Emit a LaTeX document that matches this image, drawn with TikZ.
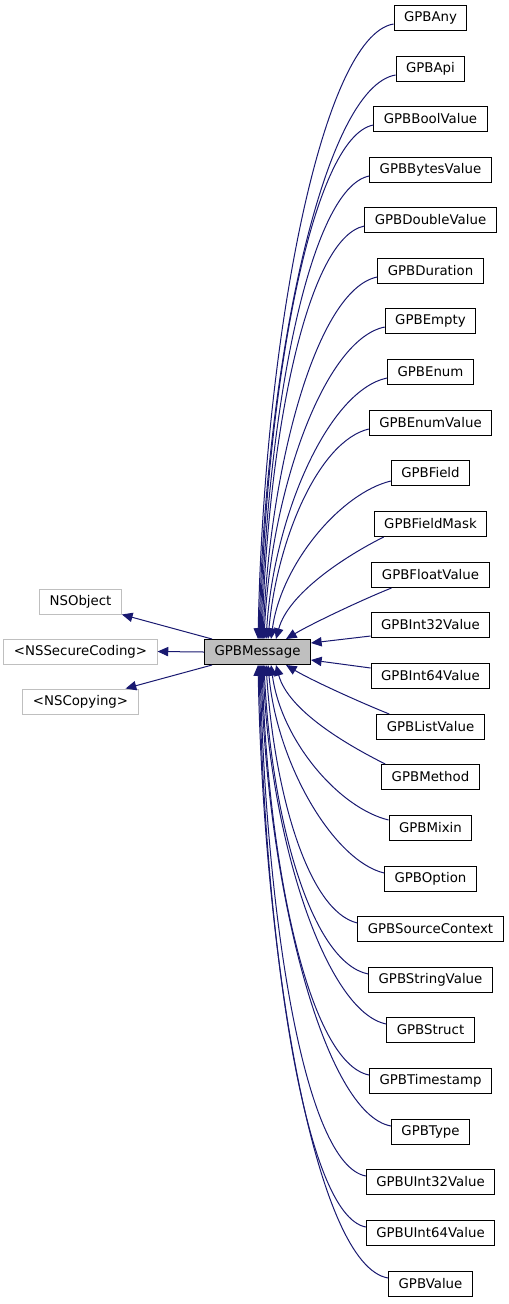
\documentclass[tikz,border=0pt]{standalone}
\usepackage{fontspec}
\setmainfont{DejaVu Sans}
\usetikzlibrary{arrows.meta,calc}
\definecolor{edgeblue}{HTML}{191970}
\definecolor{boxgray}{HTML}{BFBFBF}
\begin{document}
\begin{tikzpicture}[x=0.75pt,y=-0.75pt,
 cls/.style={draw=black, line width=0.75pt, inner xsep=7.5pt, inner ysep=0pt, minimum height=18.75pt, font=\fontsize{10}{12}\selectfont},
 ext/.style={cls, draw=boxgray},
 cur/.style={cls, fill=boxgray},
 edge/.style={draw=edgeblue, line width=0.75pt},
 inh/.style={edge, {Triangle[length=8pt,width=7pt]}-}]
\useasboundingbox (0,0) rectangle (508,1304);
% left
\node[ext] (nsobj) at (80.5,601.5) {NSObject};
\node[ext] (nssec) at (80.5,651.5) {<NSSecureCoding>};
\node[ext] (nscopy) at (80.5,701.5) {<NSCopying>};
\node[cur] (msg) at (257.5,652) {GPBMessage};
% right column
\node[cls] (any) at (430.5,18) {GPBAny};
\node[cls] (api) at (430.5,69) {GPBApi};
\node[cls] (bool) at (430.5,119) {GPBBoolValue};
\node[cls] (bytes) at (430.5,170) {GPBBytesValue};
\node[cls] (double) at (430.5,220) {GPBDoubleValue};
\node[cls] (duration) at (430.5,271) {GPBDuration};
\node[cls] (empty) at (430.5,321) {GPBEmpty};
\node[cls] (enum) at (430.5,372) {GPBEnum};
\node[cls] (enumv) at (430.5,423) {GPBEnumValue};
\node[cls] (field) at (430.5,473) {GPBField};
\node[cls] (fieldmask) at (430.5,524) {GPBFieldMask};
\node[cls] (floatv) at (430.5,575) {GPBFloatValue};
\node[cls] (int32) at (430.5,625) {GPBInt32Value};
\node[cls] (int64) at (430.5,676) {GPBInt64Value};
\node[cls] (listv) at (430.5,727) {GPBListValue};
\node[cls] (method) at (430.5,777) {GPBMethod};
\node[cls] (mixin) at (430.5,828) {GPBMixin};
\node[cls] (option) at (430.5,879) {GPBOption};
\node[cls] (srcctx) at (430.5,929) {GPBSourceContext};
\node[cls] (string) at (430.5,980) {GPBStringValue};
\node[cls] (struct) at (430.5,1030) {GPBStruct};
\node[cls] (timestamp) at (430.5,1081) {GPBTimestamp};
\node[cls] (type) at (430.5,1132) {GPBType};
\node[cls] (uint32) at (430.5,1182) {GPBUInt32Value};
\node[cls] (uint64) at (430.5,1233) {GPBUInt64Value};
\node[cls] (value) at (430.5,1284) {GPBValue};
% edges to bases
\draw[inh] (nsobj.south east) -- ($(msg.north west)+(8,0)$);
\draw[inh] (nssec.east) -- (msg.west);
\draw[inh] ($(nscopy.north east)+(-13,0)$) -- ($(msg.south west)+(8,0)$);
% upper children
\draw[inh] ($(msg.north west)+(54,0)$) .. controls +(6,-300) and +(-72,12) .. ($(any.west)+(0,6)$);
\draw[inh] ($(msg.north west)+(55,0)$) .. controls +(6,-275) and +(-72,12) .. ($(api.west)+(0,6)$);
\draw[inh] ($(msg.north west)+(56,0)$) .. controls +(6,-250) and +(-62,12) .. ($(bool.west)+(0,6)$);
\draw[inh] ($(msg.north west)+(57,0)$) .. controls +(6,-225) and +(-60,12) .. ($(bytes.west)+(0,6)$);
\draw[inh] ($(msg.north west)+(58,0)$) .. controls +(6,-200) and +(-58,12) .. ($(double.west)+(0,6)$);
\draw[inh] ($(msg.north west)+(59,0)$) .. controls +(7,-175) and +(-60,12) .. ($(duration.west)+(0,6)$);
\draw[inh] ($(msg.north west)+(60,0)$) .. controls +(7,-150) and +(-60,12) .. ($(empty.west)+(0,6)$);
\draw[inh] ($(msg.north west)+(62,0)$) .. controls +(8,-125) and +(-58,12) .. ($(enum.west)+(0,6)$);
\draw[inh] ($(msg.north west)+(64,0)$) .. controls +(9,-100) and +(-50,12) .. ($(enumv.west)+(0,6)$);
\draw[inh] ($(msg.north west)+(67,0)$) .. controls +(10,-75) and +(-50,12) .. ($(field.west)+(0,8)$);
\draw[inh] ($(msg.north west)+(72,0)$) .. controls +(12,-45) and +(-40,20) .. ($(fieldmask.south west)+(10,0)$);
\draw[inh] ($(msg.north west)+(82,0)$) .. controls +(25,-15) and +(-30,12) .. ($(floatv.south west)+(20,0)$);
\draw[inh] ($(msg.east)+(0,-9)$) -- ($(int32.west)+(0,11)$);
\draw[inh] ($(msg.east)+(0,8)$) -- ($(int64.west)+(0,-8)$);
% lower children
\draw[inh] ($(msg.south west)+(82,0)$) .. controls +(25,15) and +(-30,-12) .. ($(listv.north west)+(13,0)$);
\draw[inh] ($(msg.south west)+(72,0)$) .. controls +(12,45) and +(-40,-20) .. ($(method.north west)+(4,0)$);
\draw[inh] ($(msg.south west)+(67,0)$) .. controls +(10,75) and +(-50,-12) .. ($(mixin.west)+(0,-8)$);
\draw[inh] ($(msg.south west)+(64,0)$) .. controls +(9,100) and +(-50,-12) .. ($(option.west)+(0,-6)$);
\draw[inh] ($(msg.south west)+(62,0)$) .. controls +(8,125) and +(-50,-12) .. ($(srcctx.west)+(0,-6)$);
\draw[inh] ($(msg.south west)+(60,0)$) .. controls +(7,150) and +(-58,-12) .. ($(string.west)+(0,-6)$);
\draw[inh] ($(msg.south west)+(59,0)$) .. controls +(7,175) and +(-60,-12) .. ($(struct.west)+(0,-6)$);
\draw[inh] ($(msg.south west)+(58,0)$) .. controls +(6,200) and +(-60,-12) .. ($(timestamp.west)+(0,-6)$);
\draw[inh] ($(msg.south west)+(57,0)$) .. controls +(6,225) and +(-66,-12) .. ($(type.west)+(0,-6)$);
\draw[inh] ($(msg.south west)+(56,0)$) .. controls +(6,250) and +(-62,-12) .. ($(uint32.west)+(0,-6)$);
\draw[inh] ($(msg.south west)+(55,0)$) .. controls +(6,275) and +(-62,-12) .. ($(uint64.west)+(0,-6)$);
\draw[inh] ($(msg.south west)+(54,0)$) .. controls +(6,300) and +(-72,-12) .. ($(value.west)+(0,-6)$);
\end{tikzpicture}
\end{document}
